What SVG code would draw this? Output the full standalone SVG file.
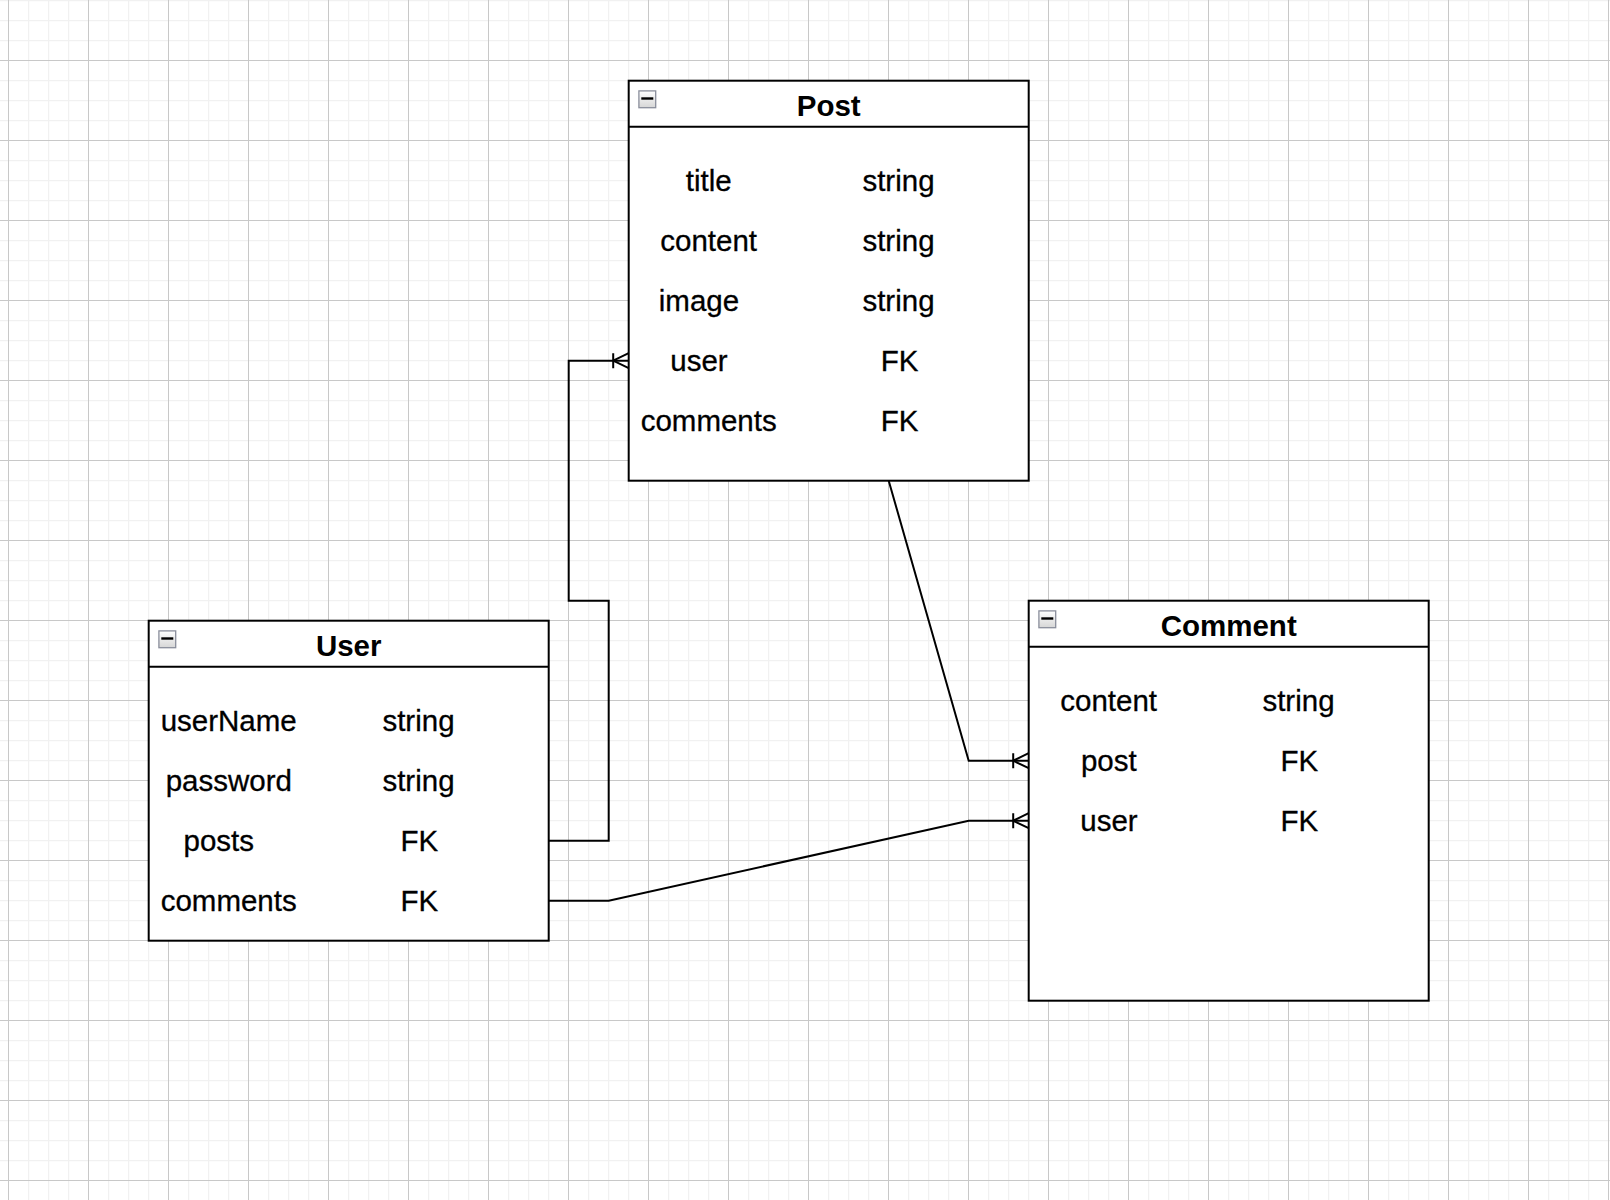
<svg xmlns="http://www.w3.org/2000/svg" xmlns:xlink="http://www.w3.org/1999/xlink" width="1610" height="1200" viewBox="0 0 1610 1200">
  <defs>
    <pattern id="grid" x="8" y="60" width="80" height="80" patternUnits="userSpaceOnUse">
      <rect x="0" y="0" width="80" height="80" fill="#ffffff"/>
      <g fill="#f1f1f1">
        <rect x="20" y="0" width="1.2" height="80"/>
        <rect x="40" y="0" width="1.2" height="80"/>
        <rect x="60" y="0" width="1.2" height="80"/>
        <rect x="0" y="20" width="80" height="1.2"/>
        <rect x="0" y="40" width="80" height="1.2"/>
        <rect x="0" y="60" width="80" height="1.2"/>
      </g>
      <g fill="#c8c8c8">
        <rect x="0" y="0" width="1" height="80"/>
        <rect x="0" y="0" width="80" height="1"/>
      </g>
    </pattern>
    <linearGradient id="btnFill" x1="0" y1="0" x2="0" y2="1">
      <stop offset="0" stop-color="#ffffff"/>
      <stop offset="1" stop-color="#d6d6d6"/>
    </linearGradient>
    <symbol id="collapse" viewBox="0 0 18 18" width="18" height="18" overflow="visible">
      <rect x="0.6" y="0.6" width="16.8" height="16.8" fill="url(#btnFill)" stroke="#8a8e9c" stroke-width="1.3"/>
      <rect x="3" y="7" width="12" height="2.4" fill="#000000"/>
    </symbol>
    <marker id="erOneMany" markerUnits="userSpaceOnUse" viewBox="-18 -10 20 20" refX="0" refY="0" markerWidth="20" markerHeight="20" orient="auto" overflow="visible">
      <path d="M-15.5,0 L0,-7.5 M-15.5,0 L0,7.5 M-15.5,-7.5 V7.5" fill="none" stroke="#000000" stroke-width="2"/>
    </marker>
    <style>
      .box { fill: #ffffff; stroke: #000000; stroke-width: 2; }
      .sep { stroke: #000000; stroke-width: 2; fill: none; }
      .title { font-family: "Liberation Sans", Arial, Helvetica, sans-serif; font-size: 29.5px; font-weight: bold; text-anchor: middle; fill: #000000; }
      .field { font-family: "Liberation Sans", Arial, Helvetica, sans-serif; font-size: 29.5px; text-anchor: middle; fill: #000000; stroke: #000000; stroke-width: 0.3; }
      .conn { fill: none; stroke: #000000; stroke-width: 2; marker-end: url(#erOneMany); }
    </style>
  </defs>

  <rect x="0" y="0" width="1610" height="1200" fill="url(#grid)"/>

  <g id="connectors">
    <path class="conn" d="M548.7,840.7 H608.7 V600.7 H568.7 V360.7 H628.7"/>
    <path class="conn" d="M888.7,480.7 L968.7,760.7 H1028.7"/>
    <path class="conn" d="M548.7,900.7 H608.7 L968.7,820.7 H1028.7"/>
  </g>

  <g id="post">
    <rect class="box" x="628.7" y="80.7" width="400" height="400"/>
    <line class="sep" x1="628.7" y1="126.7" x2="1028.7" y2="126.7"/>
    <use xlink:href="#collapse" href="#collapse" x="638.3" y="90.3" width="18" height="18"/>
    <text class="title" x="828.7" y="116">Post</text>
    <text class="field" x="708.7" y="191">title</text>
    <text class="field" x="898.5" y="191">string</text>
    <text class="field" x="708.7" y="251">content</text>
    <text class="field" x="898.5" y="251">string</text>
    <text class="field" x="699" y="311">image</text>
    <text class="field" x="898.5" y="311">string</text>
    <text class="field" x="699" y="371">user</text>
    <text class="field" x="899.5" y="371">FK</text>
    <text class="field" x="708.7" y="431">comments</text>
    <text class="field" x="899.5" y="431">FK</text>
  </g>

  <g id="user">
    <rect class="box" x="148.7" y="620.7" width="400" height="320"/>
    <line class="sep" x1="148.7" y1="666.7" x2="548.7" y2="666.7"/>
    <use xlink:href="#collapse" href="#collapse" x="158.3" y="630.3" width="18" height="18"/>
    <text class="title" x="348.7" y="655.7">User</text>
    <text class="field" x="228.7" y="731">userName</text>
    <text class="field" x="418.5" y="731">string</text>
    <text class="field" x="228.8" y="791">password</text>
    <text class="field" x="418.5" y="791">string</text>
    <text class="field" x="218.8" y="851">posts</text>
    <text class="field" x="419.3" y="851">FK</text>
    <text class="field" x="228.7" y="911">comments</text>
    <text class="field" x="419.3" y="911">FK</text>
  </g>

  <g id="comment">
    <rect class="box" x="1028.7" y="600.7" width="400" height="400"/>
    <line class="sep" x1="1028.7" y1="646.7" x2="1428.7" y2="646.7"/>
    <use xlink:href="#collapse" href="#collapse" x="1038.3" y="610.3" width="18" height="18"/>
    <text class="title" x="1228.7" y="635.7">Comment</text>
    <text class="field" x="1108.7" y="711">content</text>
    <text class="field" x="1298.5" y="711">string</text>
    <text class="field" x="1108.8" y="771">post</text>
    <text class="field" x="1299.3" y="771">FK</text>
    <text class="field" x="1109" y="831">user</text>
    <text class="field" x="1299.3" y="831">FK</text>
  </g>
</svg>
